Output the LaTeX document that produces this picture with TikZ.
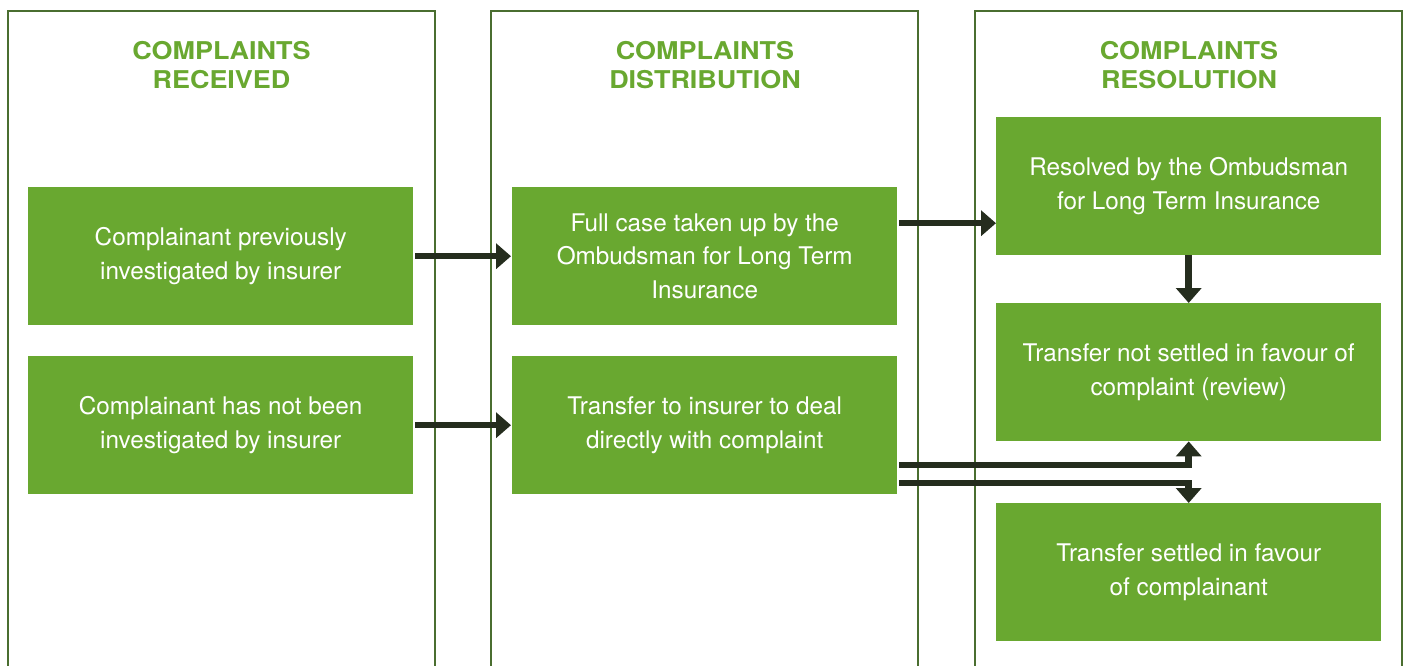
\documentclass[tikz,border=0pt]{standalone}
\usepackage{fontspec}
\setmainfont{TeX Gyre Heros}
\newfontfamily\headfont[FakeStretch=1.1]{TeX Gyre Heros}
\usetikzlibrary{arrows.meta}
\definecolor{leaf}{HTML}{69A830}
\definecolor{frame}{HTML}{4A6E30}
\definecolor{ink}{HTML}{252D1E}
\begin{document}
\begin{tikzpicture}[x=1pt,y=-1pt,
  panel/.style={draw=frame,line width=2.2pt},
  title/.style={text=leaf,font=\headfont\fontsize{24.5}{28.5}\selectfont\bfseries,align=center},
  stage/.style={fill=leaf,text=white,minimum width=385pt,minimum height=138pt,
    inner sep=0pt,align=center,font=\fontsize{24.3}{33.5}\selectfont,anchor=north west},
  flow/.style={draw=ink,line width=6.5pt,-{Triangle[length=15pt,width=25pt]},line join=miter}]
\useasboundingbox (0,0) rectangle (1407,666);
\clip (0,0) rectangle (1407,666);
% column frames (open at the bottom edge)
\draw[panel] (8,690) -- (8,11) -- (435,11) -- (435,690);
\draw[panel] (491,690) -- (491,11) -- (918,11) -- (918,690);
\draw[panel] (975,690) -- (975,11) -- (1402,11) -- (1402,690);
% column headings
\node[title] (t1) at (221.5,65) {COMPLAINTS\\RECEIVED};
\node[title] (t2) at (705,65) {COMPLAINTS\\DISTRIBUTION};
\node[title] (t3) at (1189,65) {COMPLAINTS\\RESOLUTION};
% stages
\node[stage] (r1) at (28,187) {Complainant previously\\investigated by insurer};
\node[stage] (r2) at (28,356) {Complainant has not been\\investigated by insurer};
\node[stage] (d1) at (512,187) {Full case taken up by the\\Ombudsman for Long Term\\Insurance};
\node[stage] (d2) at (512,356) {Transfer to insurer to deal\\directly with complaint};
\node[stage] (s1) at (996,117) {Resolved by the Ombudsman\\for Long Term Insurance};
\node[stage] (s2) at (996,303) {Transfer not settled in favour of\\complaint (review)};
\node[stage] (s3) at (996,503) {Transfer settled in favour\\of complainant};
% connectors
\draw[flow] ([xshift=2pt]r1.east) -- ([xshift=-1pt]d1.west);
\draw[flow] ([xshift=2pt]r2.east) -- ([xshift=-1pt]d2.west);
\draw[flow] ([xshift=2pt,yshift=33pt]d1.east) -- ([yshift=33pt]d1.east -| s1.west);
\draw[flow] (s1.south) -- (s2.north);
\draw[flow] ([xshift=2pt,yshift=-40pt]d2.east) coordinate (u0) -| (s2.south);
\draw[flow] ([xshift=2pt,yshift=-58pt]d2.east) coordinate (l0) -| (s3.north);
\end{tikzpicture}
\end{document}
